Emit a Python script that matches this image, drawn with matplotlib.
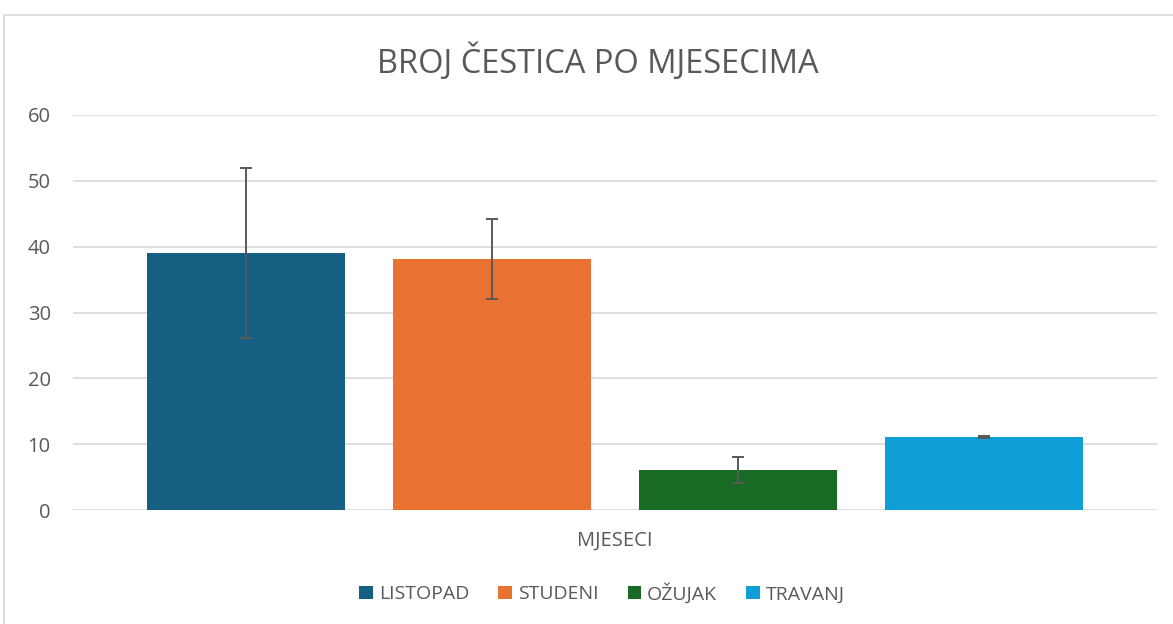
import numpy as np
import matplotlib.pyplot as plt
from matplotlib.patches import Patch, Rectangle

months = ["LISTOPAD", "STUDENI", "OŽUJAK", "TRAVANJ"]
counts = [39.0, 38.1, 6.1, 11.1]
errors = [12.9, 6.1, 2.0, 0.1]
colors = ["#156082", "#E97132", "#196B24", "#0F9ED5"]

plt.rcParams['font.family'] = ['Open Sans', 'DejaVu Sans']
W, H = 1173, 624
fig = plt.figure(figsize=(W / 100, H / 100), dpi=100)
ax = fig.add_axes([73 / W, 114 / H, (1157 - 73) / W, (510 - 115) / H])

x = np.arange(len(months))
ax.bar(x, counts, width=0.805, color=colors, zorder=2)
ax.errorbar(x, counts, yerr=errors, fmt="none", ecolor="#595959",
            elinewidth=1.4, capsize=4.5, capthick=1.4, zorder=3)

ax.set_xlim(-0.703, 3.703)
ax.set_ylim(0, 60)
ax.set_yticks(np.arange(0, 61, 10))
ax.set_xticks([])
ax.grid(axis="y", color="#d9d9d9", lw=1.2, zorder=0)
for s in ax.spines.values():
    s.set_visible(False)
ax.tick_params(axis="y", length=0, pad=16, labelsize=14.5, labelcolor="#595959")

fig.text(598 / W, 1 - 62 / H, "BROJ ČESTICA PO MJESECIMA", ha="center", va="center",
         fontsize=23.5, color="#595959")
fig.text(615 / W, 1 - 541 / H, "MJESECI", ha="center", va="center",
         fontsize=14.5, color="#595959")

handles = [Patch(facecolor=c, edgecolor="none") for c in colors]
fig.legend(handles, months, loc="center", bbox_to_anchor=(602 / W, 1 - 593 / H),
           ncol=4, frameon=False, fontsize=14, labelcolor="#595959",
           handlelength=0.7, handleheight=0.7, handletextpad=0.3, columnspacing=1.5)

fig.patches.append(Rectangle((4 / W, -0.1), 1.2, 1 - 15 / H + 0.1, transform=fig.transFigure,
                             fill=False, edgecolor="#d9d9d9", lw=1.2))

fig.savefig("out.png", dpi=100)
